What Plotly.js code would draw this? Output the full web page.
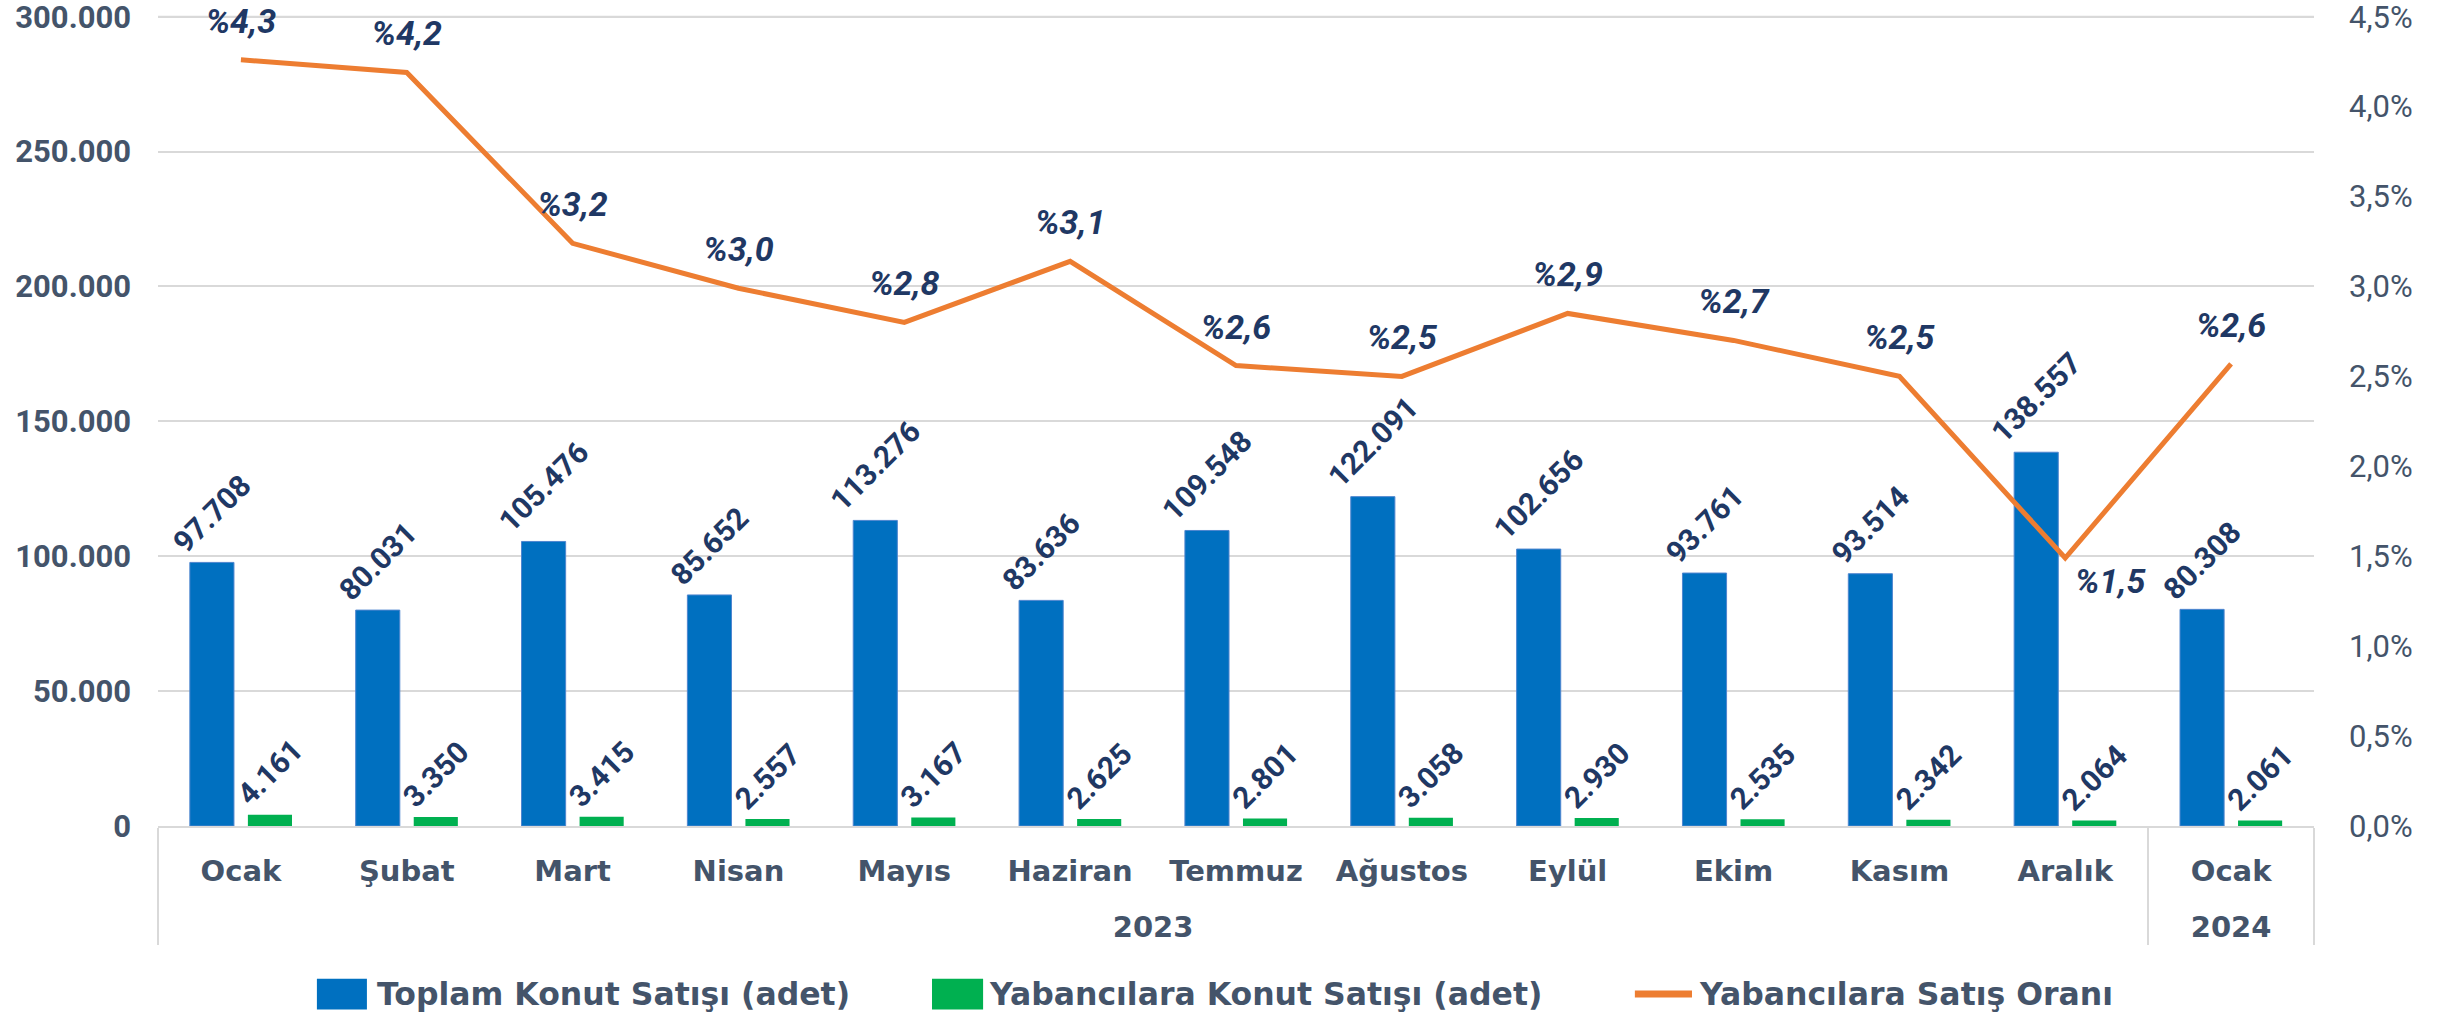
<!DOCTYPE html>
<html>
<head>
<meta charset="utf-8">
<script src="https://cdn.plot.ly/plotly-3.0.1.min.js"></script>
<style>
  html, body { margin: 0; padding: 0; background: #ffffff; }
  #chart { width: 2448px; height: 1014px; }
</style>
</head>
<body>
<div id="chart"></div>
<script>
// ---- Data ----
const years = ['2023','2023','2023','2023','2023','2023','2023','2023','2023','2023','2023','2023','2024'];
const months = ['Ocak','Şubat','Mart','Nisan','Mayıs','Haziran','Temmuz','Ağustos','Eylül','Ekim','Kasım','Aralık','Ocak'];
const totalSales = [97708, 80031, 105476, 85652, 113276, 83636, 109548, 122091, 102656, 93761, 93514, 138557, 80308];
const foreignSales = [4161, 3350, 3415, 2557, 3167, 2625, 2801, 3058, 2930, 2535, 2342, 2064, 2061];
const foreignShare = [4.26, 4.19, 3.24, 2.99, 2.80, 3.14, 2.56, 2.50, 2.85, 2.70, 2.50, 1.49, 2.57];
const seriesNames = ['Toplam Konut Satışı (adet)', 'Yabancılara Konut Satışı (adet)', 'Yabancılara Satış Oranı'];
const leftTicks = [0, 50000, 100000, 150000, 200000, 250000, 300000];
const rightTicks = [0, 0.5, 1, 1.5, 2, 2.5, 3, 3.5, 4, 4.5];
const rightTickText = rightTicks.map(v => v.toFixed(1).replace('.', ',') + '%');

// ---- Styles ----
const BLUE = '#0070C0', GREEN = '#00B050', ORANGE = '#ED7D31';
const AXIS_TXT = '#44546A', LABEL_TXT = '#1F3864', GRID = '#D9D9D9';
const NUMFONT = 'Roboto, "Open Sans", sans-serif';
const TXTFONT = '"DejaVu Sans", sans-serif';

// year level gets a leading blank line so it sits below the month row
const yearRow = years.map(y => '<br>' + y);
const xcat = [yearRow, months];

const shareTextPos = foreignShare.map((v, i) => i === 11 ? 'bottom right' : 'top center');
const shareMarkerSize = foreignShare.map((v, i) => i === 11 ? 14 : 28);

const traces = [
  {
    type: 'bar', name: seriesNames[0], x: xcat, y: totalSales,
    marker: { color: BLUE, line: { color: '#4F86CF', width: 1 } },
    texttemplate: '%{y:,d}', textposition: 'outside', textangle: -45,
    constraintext: 'none', cliponaxis: false,
    textfont: { family: NUMFONT, size: 30, color: LABEL_TXT, weight: 'bold' },
    showlegend: false, hoverinfo: 'skip'
  },
  {
    type: 'bar', name: seriesNames[1], x: xcat, y: foreignSales,
    marker: { color: GREEN },
    texttemplate: '%{y:,d}', textposition: 'outside', textangle: -45,
    constraintext: 'none', cliponaxis: false,
    textfont: { family: NUMFONT, size: 30, color: LABEL_TXT, weight: 'bold' },
    showlegend: false, hoverinfo: 'skip'
  },
  {
    type: 'scatter', mode: 'lines+markers+text', name: seriesNames[2], x: xcat, y: foreignShare,
    yaxis: 'y2',
    line: { color: ORANGE, width: 5 },
    marker: { size: shareMarkerSize, color: 'rgba(0,0,0,0)', opacity: 0, line: { width: 0, color: 'rgba(0,0,0,0)' } },
    texttemplate: '%%{y:.1f}', textposition: shareTextPos,
    textfont: { family: NUMFONT, size: 34, color: LABEL_TXT, weight: 'bold', style: 'italic' },
    cliponaxis: false, showlegend: false, hoverinfo: 'skip'
  }
];

// custom legend (paper coordinates) + top gridline
const L = { y0: -0.188, y1: -0.226, yc: -0.207 };
const topTick = leftTicks[leftTicks.length - 1];
const shapes = [
  { type: 'line', xref: 'x domain', yref: 'y', x0: 0, x1: 1, y0: topTick, y1: topTick, line: { color: GRID, width: 2 }, layer: 'below' },
  { type: 'rect', xref: 'paper', yref: 'paper', x0: 0.0737, x1: 0.0969, y0: L.y0, y1: L.y1, fillcolor: BLUE, line: { width: 0 } },
  { type: 'rect', xref: 'paper', yref: 'paper', x0: 0.359, x1: 0.3827, y0: L.y0, y1: L.y1, fillcolor: GREEN, line: { width: 0 } },
  { type: 'line', xref: 'paper', yref: 'paper', x0: 0.685, x1: 0.7115, y0: L.yc, y1: L.yc, line: { color: ORANGE, width: 7 } }
];
const legendX = [0.1005, 0.3845, 0.7138];
const annotations = seriesNames.map((n, i) => ({
  xref: 'paper', yref: 'paper', x: legendX[i], y: L.yc, xanchor: 'left', yanchor: 'middle',
  text: n, showarrow: false,
  font: { family: TXTFONT, size: 31.5, color: AXIS_TXT, weight: 'bold' }
}));

const layout = {
  width: 2448, height: 1014,
  margin: { l: 158, r: 134, t: 14, b: 188, autoexpand: false },
  paper_bgcolor: '#ffffff', plot_bgcolor: '#ffffff',
  separators: ',.',
  barmode: 'group', bargap: 0.30, bargroupgap: 0.24,
  showlegend: false,
  xaxis: {
    type: 'multicategory', automargin: false, range: [-0.5, 12.5], autorange: false,
    showline: true, linecolor: GRID, linewidth: 2,
    showgrid: false, ticks: '', ticklabelstandoff: 18,
    showdividers: true, dividercolor: GRID, dividerwidth: 2,
    tickfont: { family: TXTFONT, size: 29, color: AXIS_TXT, weight: 'bold' }
  },
  yaxis: {
    range: [0, 301000], tickvals: leftTicks, tickformat: ',d',
    automargin: false, ticklabeloverflow: 'allow',
    showgrid: true, gridcolor: GRID, gridwidth: 2, zeroline: false,
    ticks: '', ticklabelstandoff: 26,
    tickfont: { family: NUMFONT, size: 31, color: AXIS_TXT, weight: 'bold' }
  },
  yaxis2: {
    overlaying: 'y', side: 'right', automargin: false, ticklabeloverflow: 'allow',
    range: [0, 4.515], tickvals: rightTicks, ticktext: rightTickText,
    showgrid: false, zeroline: false, ticks: '', ticklabelstandoff: 34,
    tickfont: { family: NUMFONT, size: 31, color: AXIS_TXT }
  },
  shapes: shapes,
  annotations: annotations
};

Plotly.newPlot('chart', traces, layout, { staticPlot: true, displayModeBar: false });
</script>
</body>
</html>
